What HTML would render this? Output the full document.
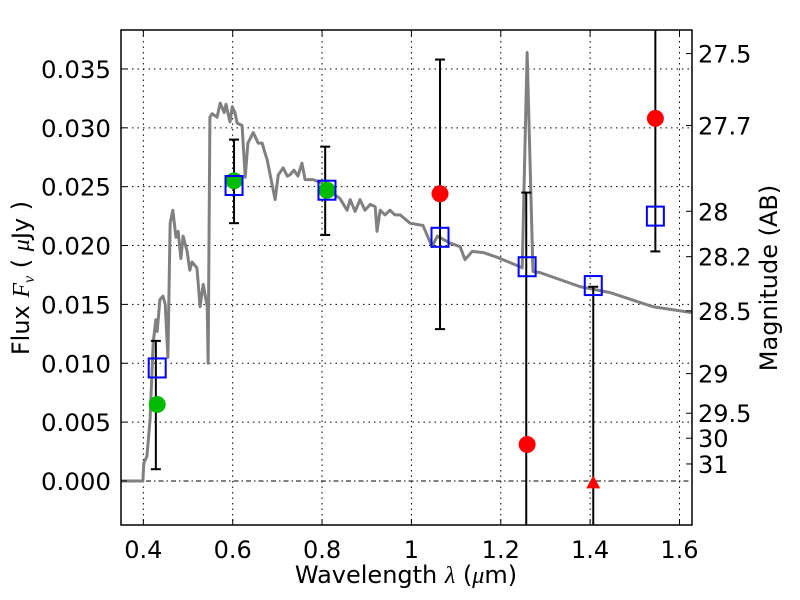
<!DOCTYPE html>
<html><head><meta charset="utf-8"><style>
html,body{margin:0;padding:0;background:#fff;}
svg{display:block;font-family:"DejaVu Sans","Liberation Sans",sans-serif;}
</style></head><body>
<svg id="chart" width="800" height="600" viewBox="0 0 800 600" xmlns="http://www.w3.org/2000/svg">
<rect x="0" y="0" width="800" height="600" fill="#fff"/>
<g id="grid"></g>
<g id="plot"></g>
<g id="axes"></g>
</svg>
<script>
const xTicks=[0.4,0.6,0.8,1.0,1.2,1.4,1.6];
const xTickLabels=["0.4","0.6","0.8","1","1.2","1.4","1.6"];
const yTicks=[0,0.005,0.010,0.015,0.020,0.025,0.030,0.035];
const yTickLabels=["0.000","0.005","0.010","0.015","0.020","0.025","0.030","0.035"];
const magTicks=[27.5,27.7,28,28.2,28.5,29,29.5,30,31];
const magTickLabels=["27.5","27.7","28","28.2","28.5","29","29.5","30","31"];
const sedLambda=[0.350,0.399,0.401,0.408,0.415,0.422,0.428,0.431,0.437,0.444,0.449,0.455,0.460,0.466,0.473,0.478,0.484,0.489,0.498,0.504,0.509,0.520,0.527,0.534,0.543,0.545,0.549,0.554,0.565,0.572,0.581,0.585,0.594,0.599,0.605,0.610,0.621,0.628,0.634,0.646,0.657,0.666,0.672,0.677,0.695,0.702,0.713,0.722,0.728,0.737,0.746,0.755,0.762,0.780,0.800,0.818,0.840,0.856,0.863,0.874,0.885,0.896,0.908,0.919,0.923,0.930,0.941,0.952,0.963,0.975,0.997,1.026,1.046,1.058,1.087,1.109,1.120,1.136,1.161,1.192,1.243,1.248,1.259,1.272,1.288,1.378,1.445,1.541,1.628];
const sedFlux=[0,0,0.0015,0.0021,0.0052,0.0117,0.0137,0.0127,0.0154,0.0157,0.0150,0.0105,0.0219,0.0230,0.0207,0.0212,0.0189,0.0208,0.0195,0.0179,0.0186,0.0181,0.0148,0.0167,0.0148,0.0100,0.0309,0.0312,0.0309,0.0321,0.0313,0.0320,0.0305,0.0318,0.0313,0.0304,0.0302,0.0258,0.0287,0.0296,0.0287,0.0287,0.0279,0.0273,0.0239,0.0260,0.0266,0.0259,0.0260,0.0264,0.0259,0.0270,0.0256,0.0256,0.0253,0.0246,0.0240,0.0230,0.0239,0.0229,0.0239,0.0230,0.0235,0.0233,0.0212,0.0230,0.0226,0.0230,0.0226,0.0226,0.0219,0.0217,0.0199,0.0208,0.0202,0.0199,0.0188,0.0195,0.0194,0.0190,0.0182,0.0181,0.0364,0.0178,0.0177,0.0165,0.0160,0.0148,0.0143];
const greenLambda=[0.431,0.603,0.811];
const greenFlux=[0.0065,0.0255,0.0247];
const errLambda=[0.428,0.603,0.807,1.064,1.257,1.407,1.546];
const errLow=[0.0010,0.0219,0.0209,0.0129,-0.010,-0.010,0.0195];
const errHigh=[0.0119,0.0290,0.0284,0.0358,0.0245,0.0165,0.050];
const modelLambda=[0.431,0.603,0.811,1.064,1.259,1.407,1.546];
const modelFlux=[0.0096,0.0251,0.0247,0.0207,0.0182,0.0166,0.0225];
const redLambda=[1.064,1.259,1.546];
const redFlux=[0.0244,0.0031,0.0308];
const limitLambda=[1.407];
const limitFlux=[-0.0002];

const L=121,R=692,T=30,B=525;
const xMin=0.35,xMax=1.628,yMin=-0.00374,yMax=0.03831;
const X=v=>L+(v-xMin)/(xMax-xMin)*(R-L);
const Y=v=>B-(v-yMin)/(yMax-yMin)*(B-T);
const magY=m=>Y(Math.pow(10,(23.9-m)/2.5));
const NS="http://www.w3.org/2000/svg";
function mk(tag,attrs,parent){const e=document.createElementNS(NS,tag);for(const k in attrs)e.setAttribute(k,attrs[k]);parent.appendChild(e);return e;}
const grid=document.getElementById('grid'),plot=document.getElementById('plot'),axes=document.getElementById('axes');

xTicks.forEach((v,i)=>{
  const g=mk('line',{x1:X(v),x2:X(v),y1:T,y2:B,stroke:'#000','stroke-width':1,'stroke-dasharray':'1.5,4'},grid);
  
  
  const t1=mk('line',{x1:X(v),x2:X(v),y1:B,y2:B-6,stroke:'#000'},axes);
  
  
  const t2=mk('line',{x1:X(v),x2:X(v),y1:T,y2:T+6,stroke:'#000'},axes);
  
  
  const lb=mk('text',{x:X(v),y:558,'text-anchor':'middle','font-size':24},axes);
  lb.textContent=xTickLabels[i];
  
  
});
yTicks.forEach((v,i)=>{
  const g=mk('line',{x1:L,x2:R,y1:Y(v),y2:Y(v),stroke:'#000','stroke-width':1,'stroke-dasharray':v===0?'5,3,1.5,3':'1.5,4'},grid);
  
  
  const t=mk('line',{x1:L,x2:L+6,y1:Y(v),y2:Y(v),stroke:'#000'},axes);
  
  
  const lb=mk('text',{x:111,y:Y(v)+9,'text-anchor':'end','font-size':24,textLength:70,lengthAdjust:'spacingAndGlyphs'},axes);
  lb.textContent=yTickLabels[i];
  
  
});
magTicks.forEach((m,i)=>{
  const y=magY(m);
  const t=mk('line',{x1:R,x2:R-6,y1:y,y2:y,stroke:'#000'},axes);
  
  
  const lb=mk('text',{x:698,y:y+9,'font-size':24},axes);
  lb.textContent=magTickLabels[i];
  
  
});

const defs=mk('defs',{},plot);
const cp=mk('clipPath',{id:'clip'},defs);
mk('rect',{x:L,y:T,width:R-L,height:B-T},cp);
const inner=mk('g',{'clip-path':'url(#clip)'},plot);



const sed=mk('polyline',{points:sedLambda.map((l,i)=>X(l)+','+Y(sedFlux[i])).join(' '),fill:'none',stroke:'#808080','stroke-width':3,'stroke-linejoin':'round'},inner);



errLambda.forEach((l,i)=>{
  const x=X(l);
  const e=mk('line',{x1:x,x2:x,y1:Y(errLow[i]),y2:Y(errHigh[i]),stroke:'#000','stroke-width':2},inner);
  
  
  [errLow[i],errHigh[i]].forEach(v=>{
    const c=mk('line',{x1:x-5,x2:x+5,y1:Y(v),y2:Y(v),stroke:'#000','stroke-width':2},inner);
    
    
  });
});
greenLambda.forEach((l,i)=>{
  const c=mk('circle',{cx:X(l),cy:Y(greenFlux[i]),r:8.5,fill:'#00bb00'},inner);
  
  
});
modelLambda.forEach((l,i)=>{
  const s=mk('rect',{x:X(l)-8.5,y:Y(modelFlux[i])-9.5,width:17,height:19,fill:'none',stroke:'#0000ff','stroke-width':2},inner);
  
  
});
redLambda.forEach((l,i)=>{
  const c=mk('circle',{cx:X(l),cy:Y(redFlux[i]),r:8.5,fill:'#ff0000'},inner);
  
  
});
limitLambda.forEach((l,i)=>{
  const x=X(l),y=Y(limitFlux[i]);
  const p=mk('polygon',{points:`${x},${y-8} ${x-7},${y+5} ${x+7},${y+5}`,fill:'#ff0000'},inner);
  
  
});

const frame=mk('rect',{x:L,y:T,width:R-L,height:B-T,fill:'none',stroke:'#000','stroke-width':1.5},axes);



const xl=mk('text',{x:406,y:583,'text-anchor':'middle','font-size':24},axes);
xl.innerHTML='Wavelength  <tspan font-style="italic" font-family="Liberation Serif,serif">λ</tspan> (<tspan font-style="italic" font-family="Liberation Serif,serif">μ</tspan>m)';



const yl=mk('text',{x:0,y:0,'text-anchor':'middle','font-size':24,transform:'translate(29,278) rotate(-90)'},axes);
yl.innerHTML='Flux  <tspan font-style="italic" font-family="Liberation Serif,serif">F</tspan><tspan font-size="16" dy="5" font-style="italic" font-family="Liberation Serif,serif">ν</tspan><tspan dy="-5">  ( </tspan><tspan font-style="italic" font-family="Liberation Serif,serif">μ</tspan>Jy )';



const ml=mk('text',{x:0,y:0,'text-anchor':'middle','font-size':24,transform:'translate(777,278) rotate(-90)'},axes);
ml.textContent='Magnitude (AB)';


</script>
</body></html>
